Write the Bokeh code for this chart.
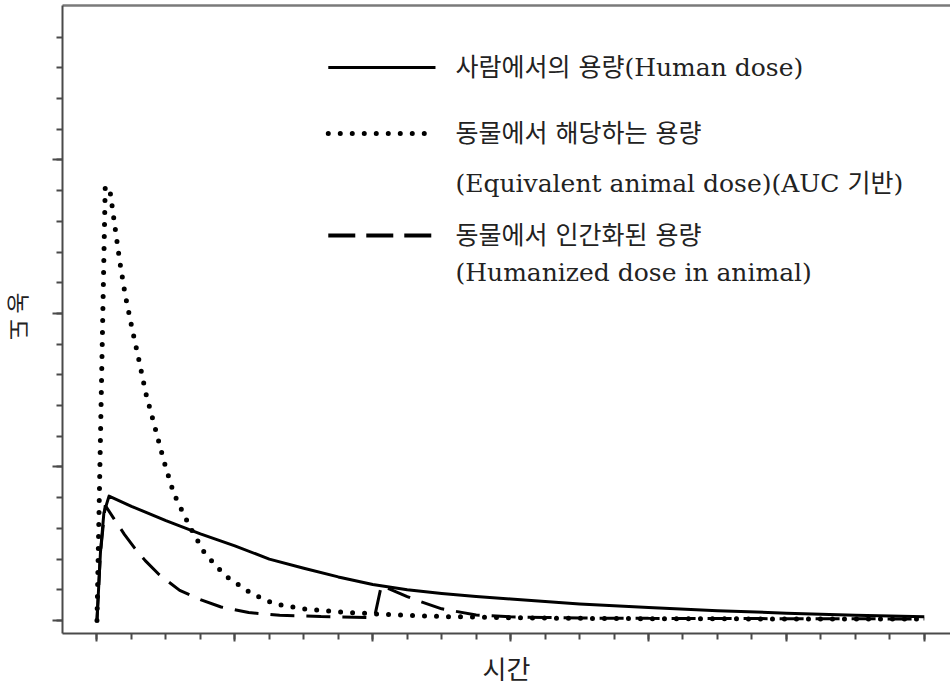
import math
from bokeh.plotting import figure
from bokeh.layouts import row
from bokeh.models import FixedTicker, LinearAxis, Label, Range1d
from bokeh.core.properties import value
from bokeh.embed import file_html
from bokeh.resources import INLINE

# ---------------- data ----------------
# time axis: 0..24 (arbitrary units), concentration axis: arbitrary units
human_t = [0, 0.1, 0.2, 0.35, 1.0, 2.0, 3.0, 4.0, 5.0, 6.0, 7.0, 8.0, 9.0, 10.0,
           11.0, 12.0, 14.0, 16.0, 18.0, 20.0, 22.0, 24.0]
human_c = [0, 2.2, 3.5, 4.05, 3.72, 3.25, 2.82, 2.43, 2.0, 1.7, 1.42, 1.17, 1.0, 0.88,
           0.78, 0.7, 0.54, 0.42, 0.32, 0.24, 0.17, 0.12]

equiv_t = [0, 0.24, 0.39, 0.5, 0.66, 0.82, 1.02, 1.22, 1.42, 1.68, 1.94, 2.23, 2.7,
           3.12, 3.72, 4.5, 5.15, 6.0, 7.0, 8.0, 9.0, 10.0, 12.0, 14.0, 16.0, 20.0, 24.0]
equiv_c = [0, 14.15, 13.9, 13.0, 11.7, 10.6, 9.5, 8.47, 7.39, 6.3, 5.2, 4.13, 3.04,
           2.2, 1.46, 0.87, 0.54, 0.38, 0.28, 0.22, 0.17, 0.13, 0.09, 0.07, 0.06, 0.05, 0.05]

humanized_t = [0, 0.1, 0.24, 0.5, 0.8, 1.1, 1.4, 1.8, 2.4, 3.0, 3.6, 4.4, 5.3, 6.5,
               7.9, 8.05, 8.25, 9.0, 9.3, 10.0, 11.0, 12.0, 13.0, 14.0, 16.0, 20.0, 24.0]
humanized_c = [0, 2.2, 3.75, 3.3, 2.8, 2.35, 1.95, 1.5, 0.98, 0.68, 0.44, 0.26, 0.17, 0.13,
               0.1, 0.1, 1.14, 0.78, 0.65, 0.38, 0.18, 0.12, 0.1, 0.08, 0.07, 0.06, 0.05]

x_major_ticks = [0, 4, 8, 12, 16, 20, 24]
x_minor_ticks = list(range(0, 25))
y_major_ticks = [0, 5, 10, 15]
y_minor_ticks = list(range(0, 20))

series_labels = [
    ["사람에서의 용량(Human dose)"],
    ["동물에서 해당하는 용량", "(Equivalent animal dose)(AUC 기반)"],
    ["동물에서 인간화된 용량", "(Humanized dose in animal)"],
]
x_title = "시간"
y_title = "농 도"

# ---------------- layout / style constants ----------------
TOTAL_W, TOTAL_H = 950, 689
STRIP_W = 40                     # narrow strip holding the rotated y title
X0, X1 = -1.0, 24.76
Y0, Y1 = -0.423, 20.03
LEG_LINE_X = (6.71, 9.82)
LEG_TEXT_X = 10.40
LEG_ROW_Y = [[18.01], [15.86, 14.23], [12.54, 11.34]]
Y_TITLE_PX = (19, TOTAL_H - 315)  # anchor of the y title, strip pixels
AX_COL = "#4a4a4a"
TXT_COL = "#222222"
LEG_FONT = "DejaVu Serif, Noto Sans CJK KR"
LEG_SIZE = "25px"

# ---------------- strip with the y-axis title ----------------
strip = figure(width=STRIP_W, height=TOTAL_H, x_range=Range1d(0, STRIP_W),
               y_range=Range1d(0, TOTAL_H), x_axis_type=None, y_axis_type=None,
               output_backend="svg", toolbar_location=None, min_border=0)
strip.outline_line_color = None
strip.grid.visible = False
strip.background_fill_color = "white"
strip.border_fill_color = "white"
strip.text(x=[Y_TITLE_PX[0]], y=[Y_TITLE_PX[1]], text=[y_title],
           text_font=value("Noto Sans CJK KR"), text_font_size=value("23px"),
           text_color=TXT_COL, angle=-math.pi / 2,
           text_align="left", text_baseline="middle")

# ---------------- main plot ----------------
p = figure(width=TOTAL_W - STRIP_W, height=TOTAL_H, x_range=Range1d(X0, X1),
           y_range=Range1d(Y0, Y1), output_backend="svg", toolbar_location=None,
           min_border_left=62 - STRIP_W, min_border_right=0, min_border_top=5,
           min_border_bottom=56)
p.outline_line_color = None
p.grid.visible = False
p.background_fill_color = "white"
p.border_fill_color = "white"

def style_axis(ax, major, minor, mout, nout):
    ax.ticker = FixedTicker(ticks=major, minor_ticks=minor)
    ax.major_label_overrides = {t: "" for t in major}
    ax.major_label_text_font_size = "1px"
    ax.major_label_standoff = 0
    ax.major_tick_in = 0
    ax.minor_tick_in = 0
    ax.major_tick_out = mout
    ax.minor_tick_out = nout
    ax.axis_line_color = AX_COL
    ax.axis_line_width = 2
    ax.major_tick_line_color = AX_COL
    ax.minor_tick_line_color = AX_COL
    ax.major_tick_line_width = 2
    ax.minor_tick_line_width = 2
    ax.axis_label_text_font = "Noto Sans CJK KR"
    ax.axis_label_text_font_style = "normal"
    ax.axis_label_text_color = TXT_COL

xa = p.xaxis[0]
ya = p.yaxis[0]
style_axis(xa, x_major_ticks, x_minor_ticks, 8, 6)
style_axis(ya, y_major_ticks, y_minor_ticks, 10, 6)
xa.axis_label = x_title
xa.axis_label_text_font_size = "26px"
xa.axis_label_standoff = 7

top = LinearAxis(ticker=FixedTicker(ticks=[]), major_label_text_font_size="1px",
                 major_label_standoff=0, major_tick_out=0, minor_tick_out=0,
                 axis_line_color="#7a7a7a", axis_line_width=2.5)
p.add_layout(top, "above")

# ---------------- curves ----------------
p.line(human_t, human_c, line_color="black", line_width=3, line_join="round")
p.line(equiv_t, equiv_c, line_color="black", line_width=5, line_dash="0 12", line_cap="round")
p.line(humanized_t, humanized_c, line_color="black", line_width=3, line_dash="24 12")

# ---------------- legend (drawn manually) ----------------
styles = [dict(line_width=3),
          dict(line_width=5, line_dash="0 12", line_cap="round"),
          dict(line_width=4, line_dash="27 11")]
for st, rows, labels in zip(styles, LEG_ROW_Y, series_labels):
    p.line(list(LEG_LINE_X), [rows[0], rows[0]], line_color="black", **st)
    for yy, txt in zip(rows, labels):
        p.add_layout(Label(x=LEG_TEXT_X, y=yy, text=txt, text_font=LEG_FONT,
                           text_font_size=LEG_SIZE, text_color=TXT_COL,
                           text_align="left", text_baseline="middle"))

layout = row(strip, p, spacing=0)
open("out.html", "w").write(file_html(layout, INLINE))
